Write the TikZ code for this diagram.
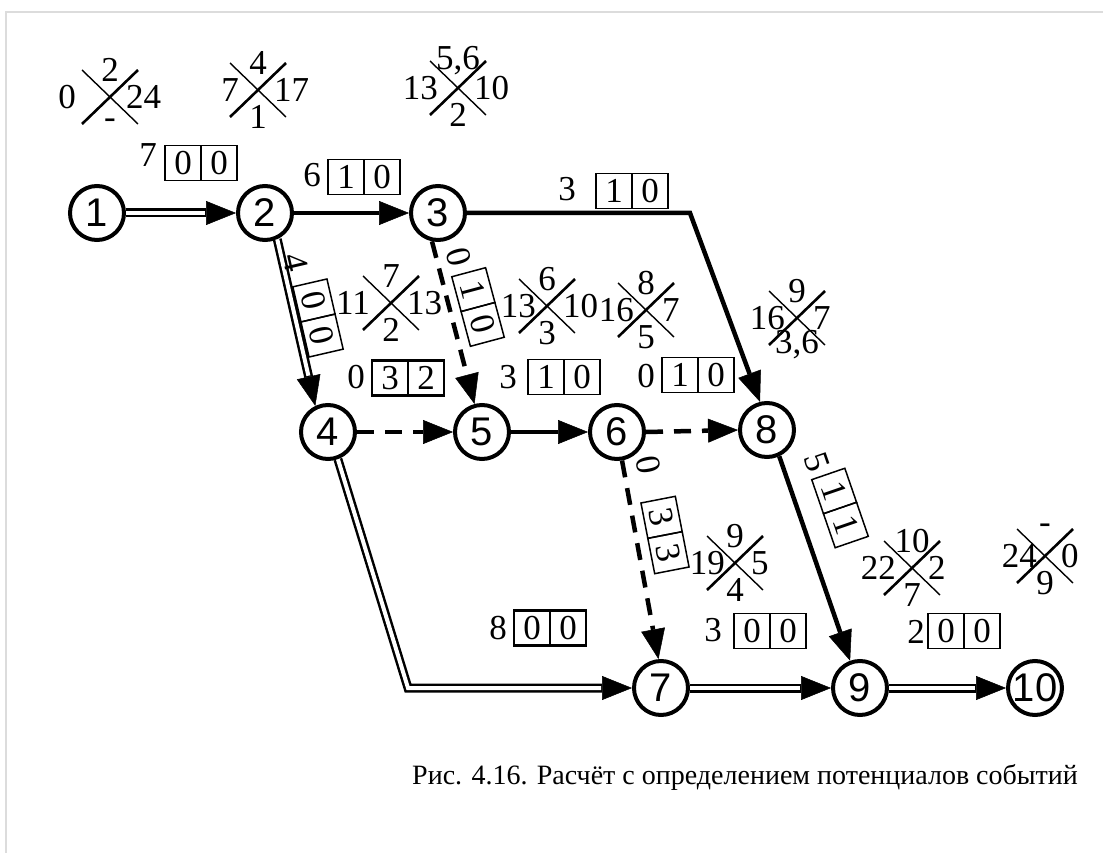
\documentclass[tikz,border=0pt]{standalone}
\usepackage{fontspec}
\setmainfont{Liberation Serif}
\newfontfamily\arialf{Liberation Sans}
\usetikzlibrary{arrows.meta}
\definecolor{framegray}{HTML}{DCDCDC}
\newcommand{\twocell}[7][]{%
  \begin{scope}[shift={(#3,#4)}, rotate=#5, transform shape]
    \node[cell,#1] (#2a) at (-18,0) {#6};
    \node[cell,#1] (#2b) at (18,0) {#7};
  \end{scope}}
% optional #1: gap of the left number from the crossing point
\newcommand{\xcross}[8][13]{%
  \draw[xthin] ({#3-28},{#4-27}) -- ({#3+28},{#4+27});
  \draw[xthick] ({#3-28},{#4+27}) -- ({#3+28},{#4-27});
  \node[num] (#2t) at ({#3},{#4-27}) {#5};
  \node[num, anchor=east] (#2l) at ({#3-#1},{#4}) {#6};
  \node[num, anchor=west] (#2r) at ({#3+16},{#4}) {#7};
  \node[num] (#2b) at ({#3},{#4+27}) {#8};}
\begin{document}
\begin{tikzpicture}[x=1pt,y=-1pt,
  ev/.style={circle, draw, line width=4pt, minimum size=54pt, inner sep=0pt, font=\arialf\fontsize{40}{40}\selectfont},
  num/.style={inner sep=0pt, font=\fontsize{35}{35}\selectfont},
  cell/.style={draw, line width=1.5pt, minimum width=36pt, minimum height=35pt, inner sep=0pt, font=\fontsize{35}{35}\selectfont},
  boldcell/.style={line width=2.6pt},
  xthick/.style={line width=2.6pt},
  xthin/.style={line width=1.4pt},
  tipstyle/.style={-{Triangle[length=30pt,width=24pt,line width=0.5pt]}},
  solidedge/.style={line width=4.5pt, line join=miter, tipstyle},
  dashedge/.style={line width=4.5pt, dash pattern=on 17pt off 11pt, tipstyle},
  dblout/.style={line width=9pt, line join=miter, tipstyle},
  dblin/.style={line width=4pt, white, line join=miter, shorten >=31pt},
]
\useasboundingbox (0,0) rectangle (1103,853);
\draw[framegray, line width=2pt] (6,853) -- (6,12) -- (1103,12);

% events
\node[ev] (n1) at (97,213) {1};
\node[ev] (n2) at (265,213) {2};
\node[ev] (n3) at (438,213) {3};
\node[ev] (n4) at (328,432) {4};
\node[ev] (n5) at (482,432) {5};
\node[ev] (n6) at (617,432) {6};
\node[ev] (n8) at (767,430) {8};
\node[ev] (n7) at (661,688) {7};
\node[ev] (n9) at (860,688) {9};
\node[ev] (n10) at (1035,688) {10};

% activities
\draw[dblout] (n1.east) -- (n2.west);
\draw[dblin] (n1.east) -- (n2.west);
\draw[solidedge] (n2.east) -- (n3.west);
\coordinate (c38) at (690,213);
\draw[solidedge] (n3.east) -- (c38) -- (n8.104);
\draw[dblout] (n2.-65) -- (n4.116);
\draw[dblin] (n2.-65) -- (n4.116);
\draw[dashedge] (n3.-102) -- (n5.105);
\draw[dashedge] (n4.east) -- (n5.west);
\draw[solidedge] (n5.east) -- (n6.west);
\draw[dashedge] (n6.east) -- (n8.west);
\draw[dashedge] (n6.-80) -- (n7.95);
\draw[solidedge] (n8.-65) -- (n9.110);
\coordinate (c47) at (408,688);
\draw[dblout] (n4.-70) -- (c47) -- (n7.west);
\draw[dblin] (n4.-70) -- (c47) -- (n7.west);
\draw[dblout] (n7.east) -- (n9.west);
\draw[dblin] (n7.east) -- (n9.west);
\draw[dblout] (n9.east) -- (n10.west);
\draw[dblin] (n9.east) -- (n10.west);

% activity labels
\node[num] (l12) at (148,155) {7};  \twocell{b12}{201}{163}{0}{0}{0}
\node[num] (l23) at (312,175) {6};  \twocell{b23}{364}{177}{0}{1}{0}
\node[num] (l38) at (567,189) {3};  \twocell{b38}{632}{191}{0}{1}{0}
\node[num, rotate=-77] (l24) at (296,262) {4};  \twocell{b24}{318}{318}{-77}{0}{0}
\node[num, rotate=-75] (l35) at (459,257) {0};  \twocell{b35}{478}{307}{-75}{1}{0}
\node[num] (l45) at (356,377) {0};  \twocell[boldcell]{b45}{408}{378}{0}{3}{2}
\node[num] (l56) at (508,377) {3};  \twocell{b56}{564}{377}{0}{1}{0}
\node[num] (l68) at (646,376) {0};  \twocell{b68}{698}{375}{0}{1}{0}
\node[num, rotate=-79] (l67) at (648,465) {0};  \twocell{b67}{665}{535}{-79}{3}{3}
\node[num, rotate=-71] (l89) at (817,462) {5};  \twocell{b89}{840}{508}{-71}{1}{1}
\node[num] (l47) at (498,628) {8};  \twocell[boldcell]{b47}{550}{628}{0}{0}{0}
\node[num] (l79) at (713,630) {3};  \twocell{b79}{770}{631}{0}{0}{0}
\node[num] (l910) at (916,632) {2}; \twocell{b910}{964}{631}{0}{0}{0}

% event parameters
\xcross[34]{x1}{110}{97}{2}{0}{24}{-}
\xcross[19]{x2}{258}{90}{4}{7}{17}{1}
\xcross[20]{x3}{458}{88}{5,6}{13}{10}{2}
\xcross[21]{x4}{391}{303}{7}{11}{13}{2}
\xcross[11]{x5}{547}{306}{6}{13}{10}{3}
\xcross[12]{x6}{646}{310}{8}{16}{7}{5}
\xcross[12]{x8}{797}{318}{9}{16}{7}{3,6}
\xcross[10]{x7}{735}{563}{9}{19}{5}{4}
\xcross[16]{x9}{912}{568}{10}{22}{2}{7}
\xcross[8]{x10}{1045}{556}{-}{24}{0}{9}

\node[anchor=base west, inner sep=0pt, font=\fontsize{28}{28}\selectfont] (cap) at (412,784) {Рис. 4.16. Расчёт с определением потенциалов событий};
\end{tikzpicture}
\end{document}
